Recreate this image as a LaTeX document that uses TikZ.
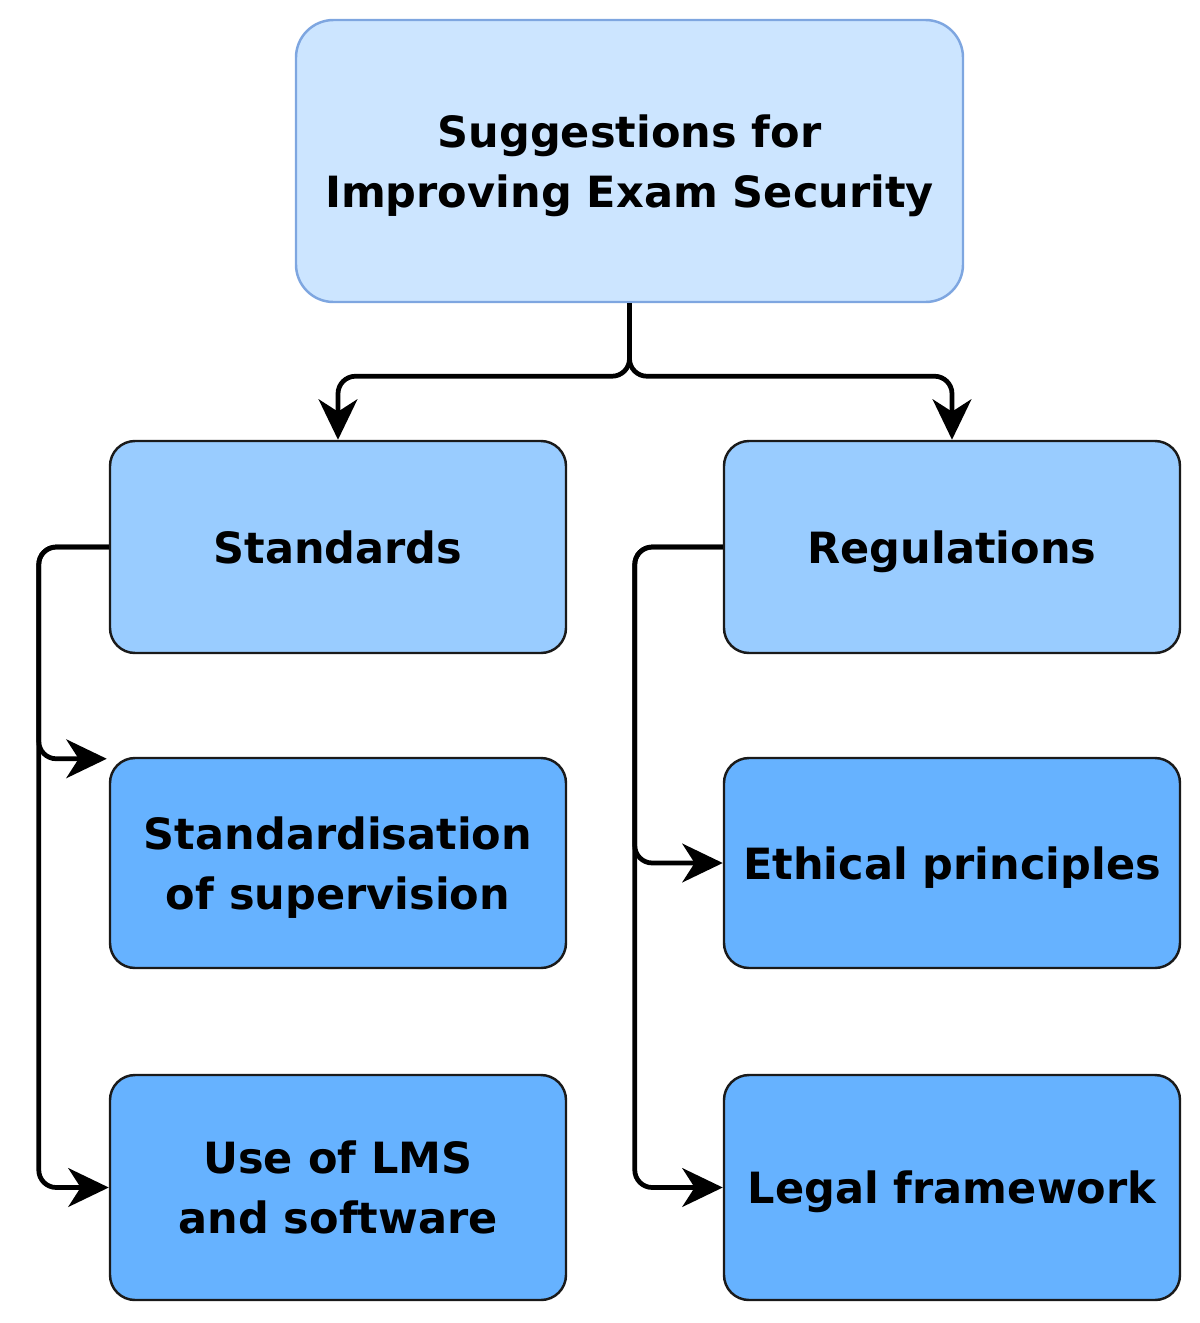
\documentclass[tikz,border=0pt]{standalone}
\usepackage{fontspec}
\setmainfont{DejaVu Sans}
\usetikzlibrary{arrows.meta,calc}
\definecolor{topfill}{HTML}{CCE5FF}
\definecolor{topline}{HTML}{7EA6E0}
\definecolor{midfill}{HTML}{99CCFF}
\definecolor{lowfill}{HTML}{66B2FF}
\definecolor{boxline}{HTML}{1A1A1A}
\begin{document}
\begin{tikzpicture}[
  box/.style={rectangle,rounded corners=0.5cm,draw=boxline,line width=1.4pt,
    minimum width=9.12cm,inner sep=2pt,align=center,text depth=0pt,
    font=\fontsize{24.5}{34}\selectfont\bfseries},
  conn/.style={line width=2.7pt,rounded corners=0.35cm,
    -{Stealth[length=23pt,width=22pt,inset=7pt]}}]
  \useasboundingbox (0,0) rectangle (24,-26.46);

  \node[box,fill=topfill,draw=topline,rounded corners=0.75cm,minimum width=13.34cm,minimum height=5.64cm] (top) at (12.59,-3.22) {Suggestions for\\Improving Exam Security};
  \node[box,fill=midfill,minimum height=4.24cm] (std) at (6.76,-10.94) {Standards};
  \node[box,fill=midfill,minimum height=4.24cm] (reg) at (19.04,-10.94) {Regulations};
  \node[box,fill=lowfill,minimum height=4.2cm] (sup) at (6.76,-17.26) {Standardisation\\of supervision};
  \node[box,fill=lowfill,minimum height=4.2cm] (eth) at (19.04,-17.26) {Ethical principles};
  \node[box,fill=lowfill,minimum height=4.5cm] (lms) at (6.76,-23.75) {Use of LMS\\and software};
  \node[box,fill=lowfill,minimum height=4.5cm] (leg) at (19.04,-23.75) {Legal framework};

  \coordinate (split) at ($(top.south)+(0,-1.46)$);
  \coordinate (lx) at ($(std.west)+(-1.4,0)$);
  \coordinate (rx) at ($(reg.west)+(-1.76,0)$);

  \draw[conn] (top.south) -- (split) -| (std.north);
  \draw[conn] (top.south) -- (split) -| (reg.north);
  \draw[conn] (std.west) -- (lx) |- ($(sup.north west)+(-0.04,-0.04)$);
  \draw[conn] (std.west) -- (lx) |- (lms.west);
  \draw[conn] (reg.west) -- (rx) |- (eth.west);
  \draw[conn] (reg.west) -- (rx) |- (leg.west);
\end{tikzpicture}
\end{document}
